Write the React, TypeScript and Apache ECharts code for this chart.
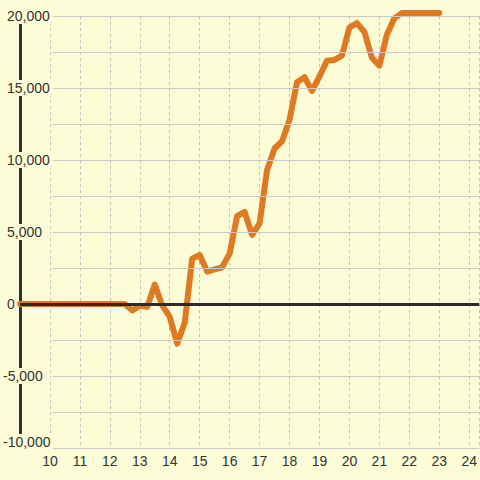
import React, { useEffect, useRef } from "react";
import * as echarts from "echarts";

const xValues = [9, 12.5, 12.75, 13, 13.25, 13.5, 13.75, 14, 14.25, 14.5, 14.75, 15, 15.25, 15.5, 15.75, 16, 16.25, 16.5, 16.75, 17, 17.25, 17.5, 17.75, 18, 18.25, 18.5, 18.75, 19, 19.25, 19.5, 19.75, 20, 20.25, 20.5, 20.75, 21, 21.25, 21.5, 21.75, 22, 22.5, 23];
const yValues = [0, 0, -450, -120, -200, 1350, -100, -900, -2750, -1300, 3150, 3400, 2250, 2400, 2550, 3500, 6100, 6400, 4800, 5600, 9300, 10800, 11300, 12800, 15400, 15750, 14800, 15800, 16900, 16950, 17250, 19200, 19500, 18900, 17100, 16550, 18700, 19850, 20200, 20200, 20200, 20200];
const gridValues = [-10000, -7500, -5000, -2500, 0, 2500, 5000, 7500, 10000, 12500, 15000, 17500, 20000];

const BG = "#fcfcd6";
const FONT = "'Liberation Sans', Arial, sans-serif";

export default function App() {
  const ref = useRef<HTMLDivElement>(null);
  useEffect(() => {
    const chart = echarts.init(ref.current!, null, { renderer: "svg" });
    const fmt = (v: number) => {
      if (v % 5000 !== 0) return "";
      const s = Math.abs(v).toLocaleString("en-US");
      if (v < 0) {
        return v === -10000 ? `{m|-${s}}` : `{n|-${s}}`;
      }
      return `{s| }{n|${s}}`;
    };
    chart.setOption({
      animation: false,
      backgroundColor: BG,
      grid: { left: 20, right: 0, top: 16, bottom: 32 },
      xAxis: {
        type: "value",
        min: 9,
        max: 9 + 460 / 30,
        interval: 1,
        axisLine: { show: false },
        axisTick: { show: false },
        axisLabel: {
          showMinLabel: false,
          showMaxLabel: false,
          color: "#333",
          fontSize: 14,
          fontFamily: FONT,
          margin: 6,
        },
        splitLine: { show: true, lineStyle: { color: "#c4c4c4", type: [3, 3], width: 1 } },
      },
      yAxis: {
        type: "value",
        min: -10000,
        max: 20000,
        interval: 2500,
        axisLine: { show: true, lineStyle: { color: "#333", width: 3 } },
        axisTick: { show: false },
        splitLine: { show: false },
        axisLabel: {
          align: "left",
          margin: 17,
          formatter: fmt,
          color: "#333",
          fontSize: 14,
          fontFamily: FONT,
          backgroundColor: BG,
          padding: [1, 1, 1, 0],
          rich: {
            s: { width: 4, fontSize: 14, fontFamily: FONT, color: "#333" },
            n: { fontSize: 14, fontFamily: FONT, color: "#333" },
            m: { fontSize: 14, fontFamily: FONT, color: "#333", padding: [0, 0, 12, 0] },
          },
        },
      },
      series: [
        {
          type: "line",
          data: [],
          silent: true,
          z: 1,
          markLine: {
            silent: true,
            symbol: "none",
            label: { show: false },
            lineStyle: { color: "#c8c8c8", width: 1, type: "solid" },
            data: gridValues.map((v) => [
              { coord: [10.1, v] },
              { coord: [9 + 460 / 30, v] },
            ]),
          },
        },
        {
          type: "line",
          data: [],
          silent: true,
          z: 2,
          markLine: {
            silent: true,
            symbol: "none",
            label: { show: false },
            lineStyle: { color: "#2b2b2b", width: 3, type: "solid" },
            data: [{ yAxis: 0 }],
          },
        },
        {
          type: "line",
          data: xValues.map((x, i) => [x, yValues[i]]),
          showSymbol: false,
          clip: false,
          z: 3,
          lineStyle: { color: "#e07a22", width: 6, cap: "round", join: "round" },
        },
      ],
    });
    return () => chart.dispose();
  }, []);
  return <div ref={ref} style={{ width: 480, height: 480, position: "absolute", left: 0, top: 0 }} />;
}
